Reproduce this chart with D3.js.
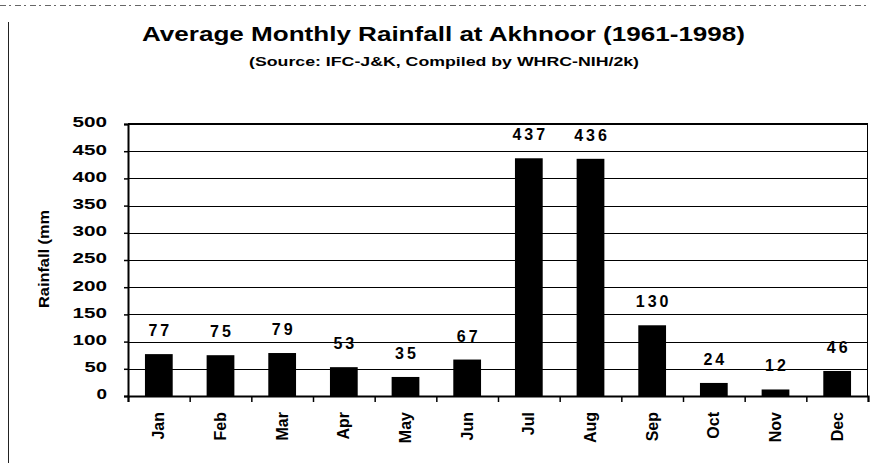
<!DOCTYPE html>
<html>
<head>
<meta charset="utf-8">
<title>Average Monthly Rainfall at Akhnoor</title>
<script src="https://cdnjs.cloudflare.com/ajax/libs/d3/7.8.5/d3.min.js"></script>
<style>
body{
margin:0;
background:#fff
}
svg{
display:block
}
text{
font-family:"Liberation Sans", Arial, sans-serif;
fill:#000
}
</style>
</head>
<body>
<svg width="877" height="463"></svg>

<script>

// data
var months = ['Jan','Feb','Mar','Apr','May','Jun','Jul','Aug','Sep','Oct','Nov','Dec']
var rainfall = [77, 75, 79, 53, 35, 67, 437, 436, 130, 24, 12, 46]
var yTicks = [0, 50, 100, 150, 200, 250, 300, 350, 400, 450, 500]

var svg = d3.select('svg')

var plotLeft = 128, plotRight = 868, plotTop = 124, plotBottom = 396

var x = d3.scaleBand()
	.domain(months)
	.range([plotLeft, plotRight])
	.paddingInner(0.55)
	.paddingOuter(0.275)

var y = d3.scaleLinear()
	.domain([0, 500])
	.range([plotBottom, plotTop])

// scan artifacts: frame lines
svg.append('line')
	.attr('x1', 0).attr('x2', 870)
	.attr('y1', 5.5).attr('y2', 5.5)
	.attr('stroke', '#666')
	.attr('stroke-dasharray', '6,3,2,4')
svg.append('line')
	.attr('x1', 8.5).attr('x2', 8.5)
	.attr('y1', 22).attr('y2', 463)
	.attr('stroke', '#222')

// titles
svg.append('text')
	.attr('x', 142).attr('y', 41)
	.attr('font-size', 21)
	.attr('font-weight', 'bold')
	.attr('textLength', 603)
	.attr('lengthAdjust', 'spacingAndGlyphs')
	.text('Average Monthly Rainfall at Akhnoor (1961-1998)')

svg.append('text')
	.attr('x', 249).attr('y', 66)
	.attr('font-size', 13)
	.attr('font-weight', 'bold')
	.attr('textLength', 390)
	.attr('lengthAdjust', 'spacingAndGlyphs')
	.text('(Source: IFC-J&K, Compiled by WHRC-NIH/2k)')

// gridlines
svg.append('g')
	.selectAll('line')
	.data(yTicks.filter(d => d > 0 && d < 500))
	.join('line')
	.attr('x1', plotLeft).attr('x2', plotRight)
	.attr('y1', d => Math.round(y(d)) + 0.5)
	.attr('y2', d => Math.round(y(d)) + 0.5)
	.attr('stroke', '#000')
	.attr('stroke-width', 1)

// plot frame
svg.append('line')
	.attr('x1', plotLeft).attr('x2', plotRight)
	.attr('y1', plotTop).attr('y2', plotTop)
	.attr('stroke', '#000').attr('stroke-width', 2)
svg.append('line')
	.attr('x1', plotRight - 0.5).attr('x2', plotRight - 0.5)
	.attr('y1', plotTop).attr('y2', plotBottom)
	.attr('stroke', '#000').attr('stroke-width', 1)

// bars
svg.append('g')
	.selectAll('rect')
	.data(rainfall)
	.join('rect')
	.attr('x', (d, i) => x(months[i]))
	.attr('width', x.bandwidth())
	.attr('y', d => y(d))
	.attr('height', d => y(0) - y(d))
	.attr('fill', '#000')

// value labels
svg.append('g')
	.selectAll('text')
	.data(rainfall)
	.join('text')
	.attr('x', (d, i) => x(months[i]) + x.bandwidth() / 2 + 1.5)
	.attr('y', d => y(d) - 18)
	.attr('text-anchor', 'middle')
	.attr('font-size', 16)
	.attr('font-weight', 'bold')
	.attr('letter-spacing', 3)
	.text(d => d)

// y axis
var yAxis = svg.append('g')
	.attr('transform', 'translate(' + plotLeft + ',0)')
	.call(d3.axisLeft(y).tickValues(yTicks).tickSize(4).tickPadding(0).tickFormat(d3.format('d')))
yAxis.select('.domain').attr('stroke-width', 2)
yAxis.selectAll('.tick line').attr('stroke-width', 1.5)
yAxis.selectAll('.tick text')
	.attr('x', -21)
	.attr('dy', '0.2em')
	.attr('font-size', 14)
	.attr('font-weight', 'bold')
	.attr('textLength', d => String(d).length * 12 - 1.5)
	.attr('lengthAdjust', 'spacingAndGlyphs')
	.attr('font-family', '"Liberation Sans", Arial, sans-serif')
	.attr('fill', '#000')

// x axis with ticks between categories
var xEdge = d3.scaleLinear().domain([0, 12]).range([plotLeft, plotRight])
var xAxis = svg.append('g')
	.attr('transform', 'translate(0,' + plotBottom + ')')
	.call(d3.axisBottom(xEdge).ticks(12).tickSize(6).tickFormat(''))
xAxis.select('.domain').attr('stroke-width', 2)
xAxis.selectAll('.tick line').attr('stroke-width', 1.5)

svg.append('g')
	.selectAll('text')
	.data(months)
	.join('text')
	.attr('transform', d => 'translate(' + (x(d) + x.bandwidth() / 2) + ',' + (plotBottom + 16) + ') rotate(-90)')
	.attr('text-anchor', 'end')
	.attr('dy', '0.35em')
	.attr('font-size', 16)
	.attr('font-weight', 'bold')
	.text(d => d)

// y axis title
svg.append('text')
	.attr('transform', 'translate(49,259) rotate(-90)')
	.attr('text-anchor', 'middle')
	.attr('font-size', 14)
	.attr('font-weight', 'bold')
	.attr('textLength', 98)
	.attr('lengthAdjust', 'spacingAndGlyphs')
	.text('Rainfall (mm')

</script>
</body>
</html>
